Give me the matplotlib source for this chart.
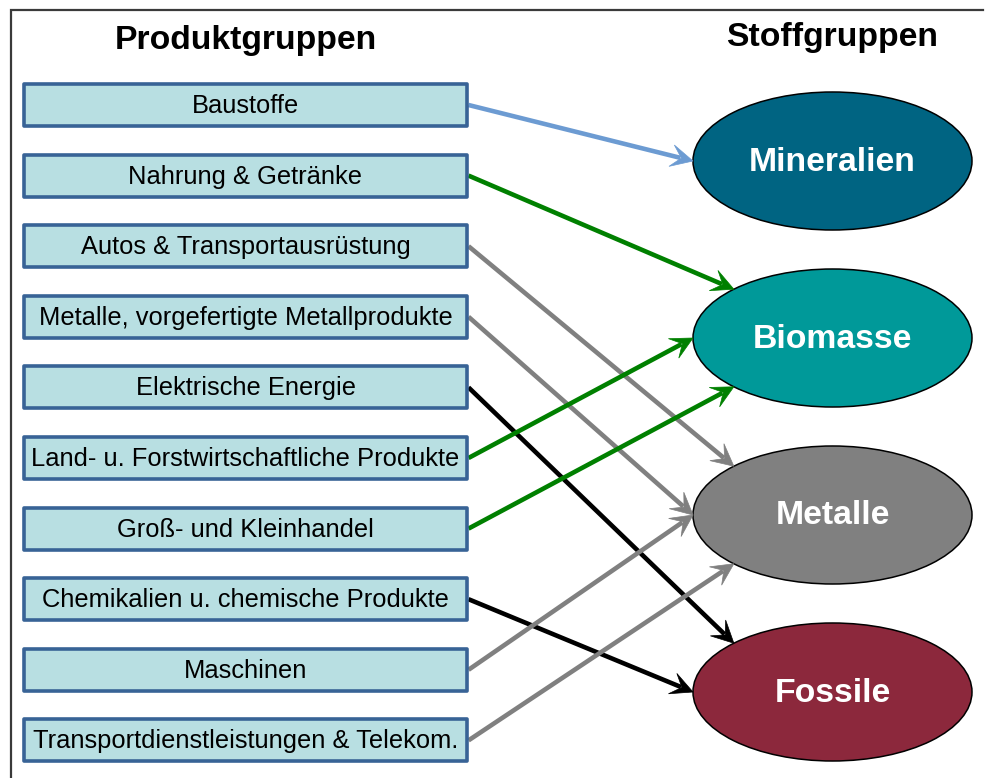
import numpy as np
import matplotlib
matplotlib.use("Agg")
import matplotlib.pyplot as plt
from matplotlib.patches import Rectangle, Ellipse, Polygon

plt.rcParams['font.family'] = ['Liberation Sans', 'DejaVu Sans']

# ---- data ----
left_title = "Produktgruppen"
right_title = "Stoffgruppen"
products = [
    "Baustoffe",
    "Nahrung & Getränke",
    "Autos & Transportausrüstung",
    "Metalle, vorgefertigte Metallprodukte",
    "Elektrische Energie",
    "Land- u. Forstwirtschaftliche Produkte",
    "Groß- und Kleinhandel",
    "Chemikalien u. chemische Produkte",
    "Maschinen",
    "Transportdienstleistungen & Telekom.",
]
materials = ["Mineralien", "Biomasse", "Metalle", "Fossile"]
material_colors = ["#006482", "#009999", "#808080", "#8C283C"]
arrow_colors = ["#6C9BD2", "#008000", "#808080", "#000000"]
# (product index, material index, attachment point on the ellipse)
links = [
    (0, 0, "left"),
    (1, 1, "upper"),
    (2, 2, "upper"),
    (3, 2, "left"),
    (4, 3, "upper"),
    (5, 1, "left"),
    (6, 1, "lower"),
    (7, 3, "left"),
    (8, 2, "left"),
    (9, 2, "lower"),
]

# ---- layout (pixels) ----
W, H = 985, 778
fig = plt.figure(figsize=(W / 100, H / 100), dpi=100)
ax = fig.add_axes([0, 0, 1, 1])
ax.set_xlim(0, W)
ax.set_ylim(H, 0)
ax.axis("off")

# frame (top and left only)
ax.plot([11, 11, 983], [H, 10, 10], color="#3a3a3a", lw=1.6, solid_joinstyle="miter")

# titles
ax.text(246, 40, left_title, ha="center", va="center", fontsize=24.3, fontweight="bold")
ax.text(832, 37, right_title, ha="center", va="center", fontsize=24.3, fontweight="bold")

box_l, box_r, box_h = 24, 467, 42
box_y0, box_dy = 105, 70.6
box_cy = [box_y0 + i * box_dy for i in range(len(products))]
for name, cy in zip(products, box_cy):
    ax.add_patch(Rectangle((box_l, cy - box_h / 2), box_r - box_l, box_h,
                           facecolor="#B8DFE2", edgecolor="#386396", lw=2.6,
                           joinstyle="round", zorder=2))
    ax.text((box_l + box_r) / 2, cy + 1, name, ha="center", va="center",
            fontsize=18.4, zorder=3)

ell_cx, ell_w, ell_h = 832.5, 279, 138
ell_cy = [161, 338, 515, 692]
for name, cy, col in zip(materials, ell_cy, material_colors):
    ax.add_patch(Ellipse((ell_cx, cy), ell_w, ell_h, facecolor=col,
                         edgecolor="black", lw=1.1, zorder=2))
    ax.text(ell_cx, cy + 1, name, ha="center", va="center", fontsize=24.3,
            fontweight="bold", color="white", zorder=3)

angles = {"left": np.pi, "upper": np.deg2rad(225), "lower": np.deg2rad(135)}


def arrow(x0, y0, x1, y1, color):
    d = np.array([x1 - x0, y1 - y0], float)
    d /= np.hypot(*d)
    p = np.array([-d[1], d[0]])
    tip = np.array([x1, y1])
    L, Wd, notch = 22, 11, 12
    shaft_end = tip - d * (notch + 1)
    ax.plot([x0, shaft_end[0]], [y0, shaft_end[1]], color=color, lw=3.3,
            solid_capstyle="butt", zorder=1)
    head = [tip, tip - d * L + p * Wd, tip - d * notch, tip - d * L - p * Wd]
    ax.add_patch(Polygon(head, closed=True, facecolor=color, edgecolor=color,
                         lw=0.5, zorder=4))


for pi, mi, where in links:
    t = angles[where]
    x1 = ell_cx + ell_w / 2 * np.cos(t)
    y1 = ell_cy[mi] + ell_h / 2 * np.sin(t)
    arrow(box_r + 1.5, box_cy[pi], x1, y1, arrow_colors[mi])

fig.savefig("out.png", dpi=100)
